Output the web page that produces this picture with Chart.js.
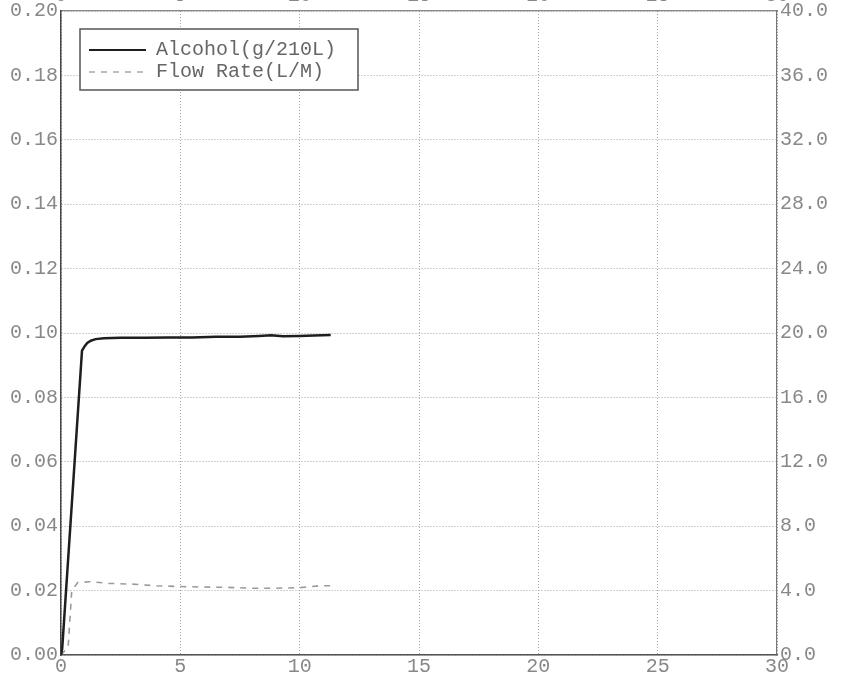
<!DOCTYPE html>
<html>
<head>
<meta charset="utf-8">
<title>Alcohol / Flow Rate</title>
<script src="https://cdn.jsdelivr.net/npm/chart.js"></script>
<style>
  html, body { margin: 0; padding: 0; background: #fff; overflow: hidden; }
  #wrap { position: absolute; left: 0; top: -13px; width: 850px; height: 690px; }
</style>
</head>
<body>
<div id="wrap"><canvas id="chart" width="850" height="690"></canvas></div>
<script>
// series labels
const seriesLabels = ['Alcohol(g/210L)', 'Flow Rate(L/M)'];

// alcohol curve (time, g/210L) - left axis
const alcoholTime = [0, 0.05, 0.88, 1.0, 1.1, 1.25, 1.45, 1.8, 2.5, 3.5, 4.5, 5.5, 6.5, 7.5, 8.3, 8.8, 9.3, 10.0, 10.6, 11.3];
const alcoholValue = [0, 0.002, 0.0945, 0.0960, 0.0969, 0.0976, 0.0981, 0.0984, 0.0985, 0.0985, 0.0986, 0.0986, 0.0988, 0.0988, 0.0991, 0.0993, 0.0990, 0.0991, 0.0992, 0.0994];

// flow rate curve (time, L/M) - right axis
const flowTime = [0, 0.3, 0.45, 0.7, 1.2, 2.0, 3.0, 4.0, 5.0, 6.0, 7.0, 8.0, 9.0, 10.0, 10.8, 11.3];
const flowValue = [0, 0.5, 4.0, 4.5, 4.55, 4.45, 4.4, 4.3, 4.25, 4.22, 4.2, 4.15, 4.15, 4.18, 4.3, 4.3];

// axis ranges / ticks
const xMin = 0, xMax = 30, xStep = 5;
const yLeftMin = 0, yLeftMax = 0.2, yLeftStep = 0.02;
const yRightMin = 0, yRightMax = 40, yRightStep = 4;

const FONT = { family: '"Liberation Mono", "DejaVu Sans Mono", monospace', size: 20 };
const TICK_COLOR = '#888';

function pts(xs, ys) { return xs.map((x, i) => ({ x: x, y: ys[i] })); }

// legend drawn inside the plot, with a frame
const boxLegend = {
  id: 'boxLegend',
  afterDraw(chart) {
    const { ctx, chartArea } = chart;
    const l = chartArea.left, t = chartArea.top;
    ctx.save();
    ctx.fillStyle = '#fff';
    ctx.fillRect(l + 19, t + 18, 278, 61);
    ctx.strokeStyle = '#555';
    ctx.lineWidth = 1.5;
    ctx.strokeRect(l + 19, t + 18, 278, 61);
    chart.data.datasets.forEach((ds, i) => {
      const y = t + 39 + i * 22;
      ctx.strokeStyle = ds.borderColor;
      ctx.lineWidth = i === 0 ? 2 : 1.3;
      ctx.setLineDash(ds.borderDash || []);
      ctx.beginPath();
      ctx.moveTo(l + 28, y);
      ctx.lineTo(l + 85, y);
      ctx.stroke();
      ctx.setLineDash([]);
      ctx.fillStyle = '#666';
      ctx.font = FONT.size + 'px ' + FONT.family;
      ctx.textBaseline = 'middle';
      ctx.fillText(ds.label, l + 95, y);
    });
    ctx.restore();
  }
};

const fixSize = (w, h) => scale => {
  if (w != null) scale.width = w;
  if (h != null) scale.height = h;
};

const gridCommon = { color: '#a5a5a5', lineWidth: 1, drawTicks: false };

new Chart(document.getElementById('chart'), {
  type: 'line',
  data: {
    datasets: [
      {
        label: seriesLabels[0],
        data: pts(alcoholTime, alcoholValue),
        borderColor: '#1e1e1e',
        borderWidth: 2.5,
        pointRadius: 0,
        tension: 0,
        yAxisID: 'y'
      },
      {
        label: seriesLabels[1],
        data: pts(flowTime, flowValue),
        borderColor: '#9a9a9a',
        borderWidth: 1.6,
        borderDash: [6, 6],
        pointRadius: 0,
        tension: 0,
        yAxisID: 'y2'
      }
    ]
  },
  options: {
    responsive: false,
    animation: false,
    layout: { padding: 0 },
    plugins: { legend: { display: false }, tooltip: { enabled: false } },
    scales: {
      x: {
        type: 'linear', position: 'bottom', min: xMin, max: xMax,
        afterFit: fixSize(null, 22),
        ticks: { stepSize: xStep, padding: 0, font: FONT, color: TICK_COLOR, maxRotation: 0 },
        grid: gridCommon,
        border: { color: '#555', width: 1.5, dash: [1, 2] }
      },
      x2: {
        type: 'linear', position: 'top', min: xMin, max: xMax,
        afterFit: fixSize(null, 24),
        ticks: { stepSize: xStep, padding: 3, font: FONT, color: TICK_COLOR, maxRotation: 0 },
        grid: { display: false, drawTicks: false },
        border: { color: '#888', width: 1.2 }
      },
      y: {
        type: 'linear', position: 'left', min: yLeftMin, max: yLeftMax,
        afterFit: fixSize(61, null),
        ticks: { stepSize: yLeftStep, padding: 3, font: FONT, color: TICK_COLOR, callback: v => v.toFixed(2) },
        grid: gridCommon,
        border: { color: '#444', width: 1.5, dash: [1, 2] }
      },
      y2: {
        type: 'linear', position: 'right', min: yRightMin, max: yRightMax,
        afterFit: fixSize(73, null),
        ticks: { stepSize: yRightStep, padding: 3, font: FONT, color: TICK_COLOR, callback: v => v.toFixed(1) },
        grid: { display: false, drawTicks: false },
        border: { color: '#777', width: 1.2 }
      }
    }
  },
  plugins: [boxLegend]
});
</script>
</body>
</html>
